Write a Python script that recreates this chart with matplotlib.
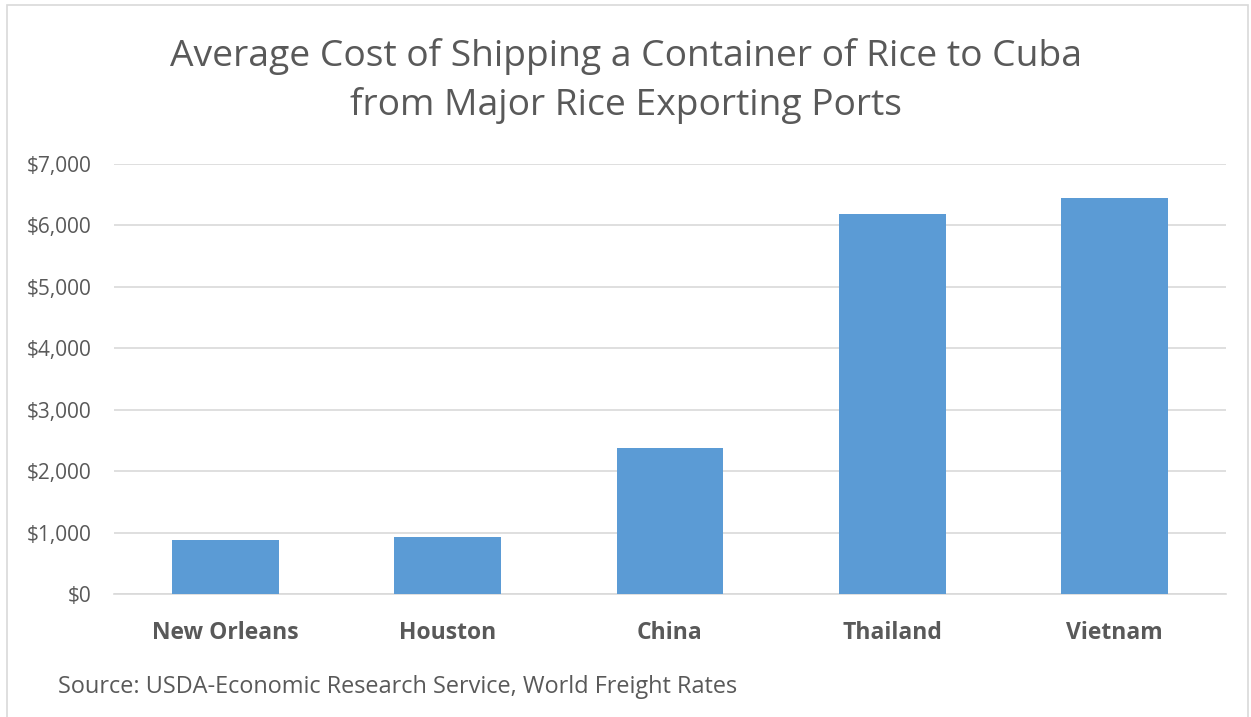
import matplotlib
matplotlib.use("Agg")
import matplotlib.pyplot as plt
from matplotlib.patches import Rectangle
from matplotlib.ticker import FuncFormatter

categories = ["New Orleans", "Houston", "China", "Thailand", "Vietnam"]
costs = [885, 935, 2380, 6190, 6450]
y_ticks = [0, 1000, 2000, 3000, 4000, 5000, 6000, 7000]

title = "Average Cost of Shipping a Container of Rice to Cuba\nfrom Major Rice Exporting Ports"
source = "Source: USDA-Economic Research Service, World Freight Rates"

plt.rcParams['font.family'] = ['Open Sans', 'DejaVu Sans']
text_color = "#595959"

fig = plt.figure(figsize=(12.51, 7.17), dpi=100)
ax = fig.add_axes([0.0911, 0.1711, 0.8889, 0.6002])

x = range(len(categories))
ax.bar(x, costs, width=0.48, color="#5B9BD5", zorder=3)
ax.set_xlim(-0.5, len(categories) - 0.5)
ax.set_ylim(0, 7000)
ax.set_yticks(y_ticks)
ax.yaxis.set_major_formatter(FuncFormatter(lambda v, p: "${:,.0f}".format(v)))
ax.set_xticks(list(x))
ax.set_xticklabels(categories, fontsize=16.5, fontweight="bold", color=text_color)
ax.tick_params(axis="y", labelsize=15, colors=text_color, length=0, pad=16)
ax.tick_params(axis="x", length=0, pad=19)
ax.grid(axis="y", color="#D9D9D9", linewidth=1.2, zorder=0)
for s in ["top", "right", "left"]:
    ax.spines[s].set_visible(False)
ax.spines["bottom"].set_color("#D9D9D9")
ax.spines["bottom"].set_linewidth(1.2)

fig.text(0.5, 0.887, title, ha="center", va="center", fontsize=26.8,
         color=text_color, linespacing=1.45)
fig.text(0.046, 0.042, source, ha="left", va="center", fontsize=16.9, color=text_color)

fig.patches.append(Rectangle((0.0056, -0.01), 0.992, 1.003, transform=fig.transFigure,
                             fill=False, edgecolor="#D9D9D9", linewidth=1.2))

fig.savefig("out.png", dpi=100, facecolor="white")
